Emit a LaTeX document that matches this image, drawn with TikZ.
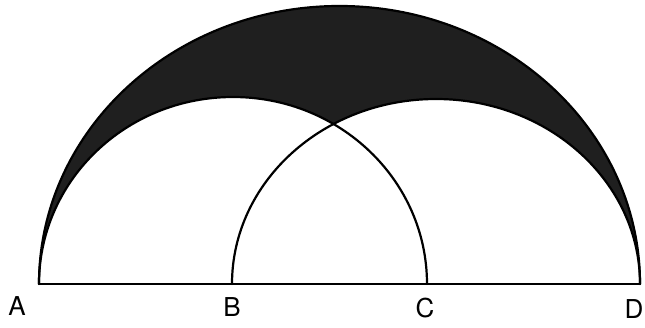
\documentclass[tikz,border=0pt]{standalone}
\usepackage{fontspec}
\setmainfont{TeX Gyre Heros}
\begin{document}
\begin{tikzpicture}[x=1pt,y=1pt,
  edge/.style={line width=2.2pt,line join=round,line cap=round},
  shade/.style={fill=black!88},
  lbl/.style={font=\fontsize{26}{26}\selectfont,inner sep=0pt}]
\useasboundingbox (0,0) rectangle (645,327);
\coordinate (A) at (39,43);
\coordinate (B) at (232,43);
\coordinate (C) at (427,43);
\coordinate (D) at (640,43);
% shaded crescent region
\fill[shade] (A) arc[start angle=180,end angle=0,x radius=300.5,y radius=278] -- cycle;
\fill[white] (A) arc[start angle=180,end angle=0,x radius=194,y radius=187] -- cycle;
\fill[white] (B) arc[start angle=180,end angle=0,x radius=204,y radius=185] -- cycle;
% outlines
\draw[edge] (A) arc[start angle=180,end angle=0,x radius=300.5,y radius=278];
\draw[edge] (A) arc[start angle=180,end angle=0,x radius=194,y radius=187];
\draw[edge] (B) arc[start angle=180,end angle=0,x radius=204,y radius=185];
\draw[edge] (A) -- (D);
% labels
\node[lbl] (la) at (17,21) {A};
\node[lbl] (lb) at (232,20) {B};
\node[lbl] (lc) at (425,19) {C};
\node[lbl] (ld) at (634,18) {D};
\end{tikzpicture}
\end{document}
